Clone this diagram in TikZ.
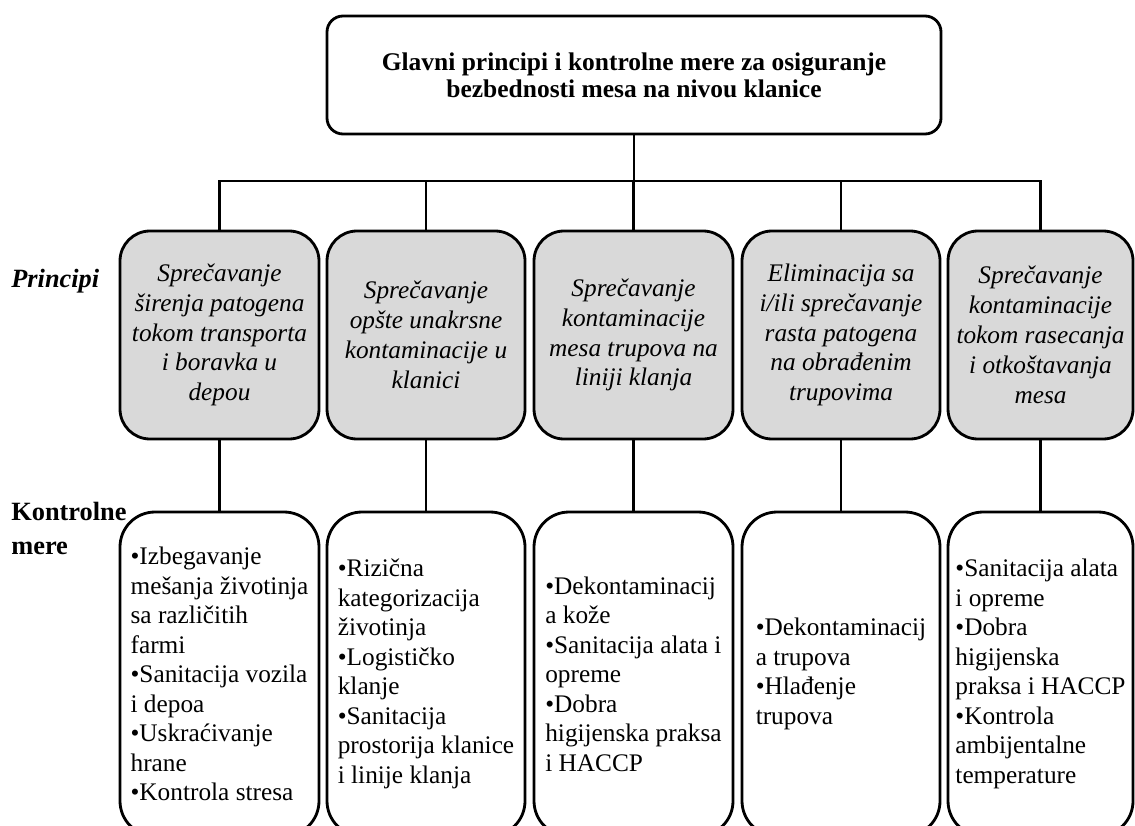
\documentclass[tikz,border=0pt]{standalone}
\usepackage{fontspec}
\setmainfont{Liberation Serif}
\usepackage{xcolor}
\usepackage{tikz}
\usetikzlibrary{positioning, calc}
\definecolor{princgrey}{RGB}{217, 217, 217}

\tikzset{
    titlebox/.style={rectangle, rounded corners=0.32cm, draw=black, fill=white, line width=1.6pt, minimum width=12.28cm, minimum height=2.36cm, align=center, font=\fontsize{14.5}{15.3}\selectfont\bfseries},
    princbox/.style={rectangle, rounded corners=0.6cm, draw=black, fill=princgrey, line width=1.6pt, minimum height=4.16cm, align=center, inner sep=2pt, font=\fontsize{14.4}{17}\selectfont\itshape},
    measbox/.style={rectangle, rounded corners=0.7cm, draw=black, fill=white, line width=1.6pt, minimum height=6.48cm, align=left, inner sep=2pt, font=\fontsize{14.4}{16.8}\selectfont},
    rowlabel/.style={inner sep=0pt, align=left, font=\fontsize{15}{19}\selectfont\bfseries},
    link/.style={draw=black, line width=1.4pt}
}

\begin{document}
\begin{tikzpicture}
            \useasboundingbox (0,0) rectangle (22.7,16.5);
            % main title
            \node[titlebox] (title) at (12.68,15.0) {Glavni principi i kontrolne mere za osiguranje\\bezbednosti mesa na nivou klanice};
            \coordinate (bus) at (12.68,12.88);

            % principi
            \node[princbox, minimum width=3.98cm] (p1) at (4.39,9.80) {Sprečavanje\\širenja patogena\\tokom transporta\\i boravka u\\depou};
            \node[princbox, minimum width=3.96cm] (p2) at (8.52,9.80) {Sprečavanje\\opšte unakrsne\\kontaminacije u\\klanici};
            \node[princbox, minimum width=3.98cm] (p3) at (12.67,9.80) {Sprečavanje\\kontaminacije\\mesa trupova na\\liniji klanja};
            \node[princbox, minimum width=3.96cm] (p4) at (16.82,9.80) {Eliminacija sa\\i/ili sprečavanje\\rasta patogena\\na obrađenim\\trupovima};
            \node[princbox, minimum width=3.70cm] (p5) at (20.81,9.80) {Sprečavanje\\kontaminacije\\tokom rasecanja\\i otkoštavanja\\mesa};

            % kontrolne mere
            \node[measbox, minimum width=3.98cm] (m1) at (4.39,3.02) {•Izbegavanje\\mešanja životinja\\sa različitih\\farmi\\•Sanitacija vozila\\i depoa\\•Uskraćivanje\\hrane\\•Kontrola stresa};
            \node[measbox, minimum width=3.96cm] (m2) at (8.52,3.02) {•Rizična\\kategorizacija\\životinja\\•Logističko\\klanje\\•Sanitacija\\prostorija klanice\\i linije klanja};
            \node[measbox, minimum width=3.98cm] (m3) at (12.67,3.02) {•Dekontaminacij\\a kože\\•Sanitacija alata i\\opreme\\•Dobra\\higijenska praksa\\i HACCP};
            \node[measbox, minimum width=3.96cm] (m4) at (16.82,3.02) {•Dekontaminacij\\a trupova\\•Hlađenje\\trupova};
            \node[measbox, minimum width=3.70cm] (m5) at (20.81,3.02) {•Sanitacija alata\\i opreme\\•Dobra\\higijenska\\praksa i HACCP\\•Kontrola\\ambijentalne\\temperature};

            % row labels
            \node[rowlabel, anchor=base west, font=\fontsize{15}{19}\selectfont\bfseries\itshape] (lprinc) at (0.22,10.76) {Principi};
            \node[rowlabel, anchor=north west] (lmeas) at (0.22,6.46) {Kontrolne\\mere};

            % connectors
            \draw[link] (title) -- (bus);
            \foreach \i in {1,...,5} {
                \draw[link] (p\i.north) |- (bus);
                \draw[link] (p\i) -- (m\i);
            }
\end{tikzpicture}
\end{document}
